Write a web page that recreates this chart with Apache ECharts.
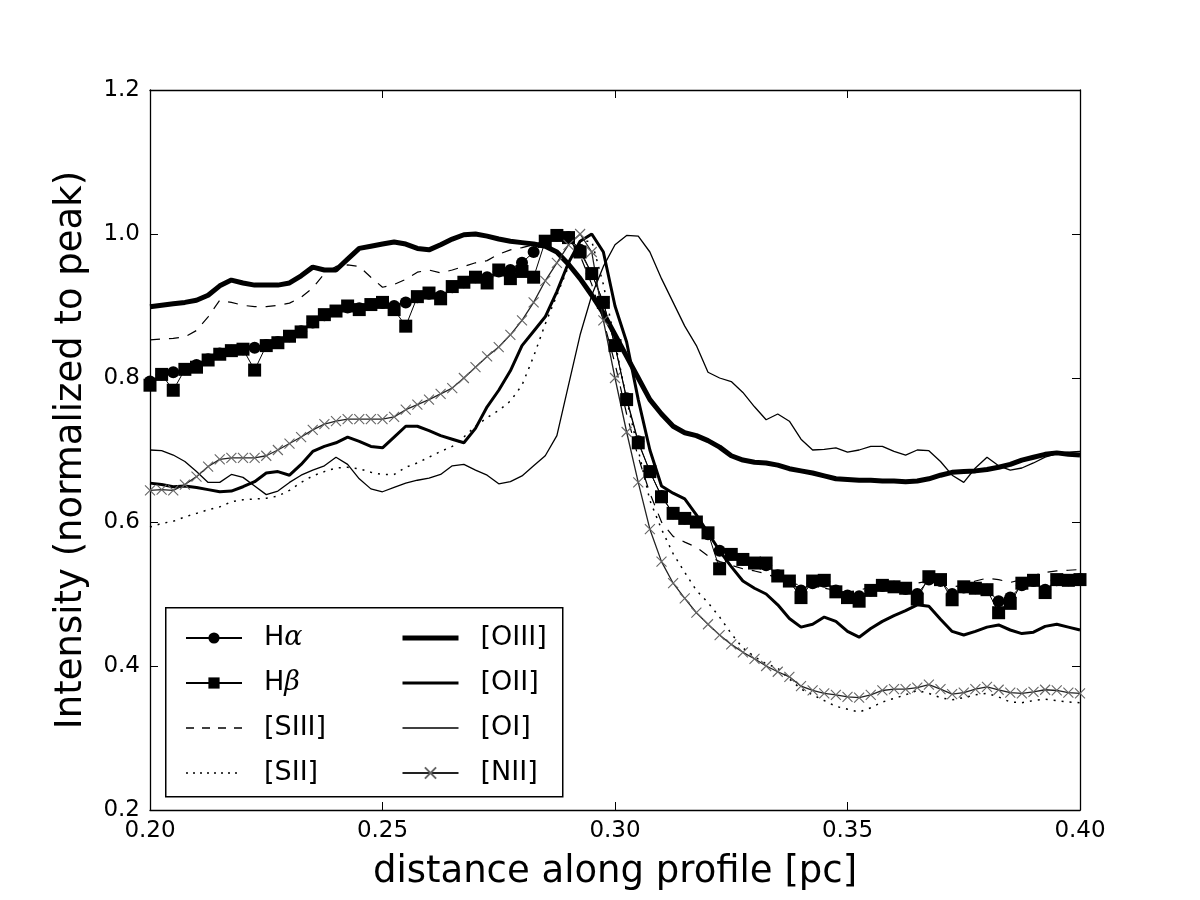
<!DOCTYPE html>
<html>
<head>
<meta charset="utf-8">
<script src="https://cdn.jsdelivr.net/npm/echarts@6/dist/echarts.min.js"></script>
<style>
  html, body { margin: 0; padding: 0; background: #fff; }
  #chart { width: 1200px; height: 900px; }
</style>
</head>
<body>
<div id="chart"></div>
<script>
// distance along profile [pc]
const distance = [
  0.2000, 0.2025, 0.2050, 0.2075, 0.2100, 0.2125, 0.2150, 0.2175, 0.2200, 0.2225,
  0.2250, 0.2275, 0.2300, 0.2325, 0.2350, 0.2375, 0.2400, 0.2425, 0.2450, 0.2475,
  0.2500, 0.2525, 0.2550, 0.2575, 0.2600, 0.2625, 0.2650, 0.2675, 0.2700, 0.2725,
  0.2750, 0.2775, 0.2800, 0.2825, 0.2850, 0.2875, 0.2900, 0.2925, 0.2950, 0.2975,
  0.3000, 0.3025, 0.3050, 0.3075, 0.3100, 0.3125, 0.3150, 0.3175, 0.3200, 0.3225,
  0.3250, 0.3275, 0.3300, 0.3325, 0.3350, 0.3375, 0.3400, 0.3425, 0.3450, 0.3475,
  0.3500, 0.3525, 0.3550, 0.3575, 0.3600, 0.3625, 0.3650, 0.3675, 0.3700, 0.3725,
  0.3750, 0.3775, 0.3800, 0.3825, 0.3850, 0.3875, 0.3900, 0.3925, 0.3950, 0.3975,
  0.4000
]

const hAlpha = [
  0.795, 0.805, 0.808, 0.812, 0.818, 0.826, 0.834, 0.838, 0.840, 0.842,
  0.846, 0.850, 0.858, 0.865, 0.877, 0.887, 0.893, 0.898, 0.897, 0.902,
  0.904, 0.900, 0.905, 0.912, 0.917, 0.914, 0.926, 0.933, 0.940, 0.940,
  0.948, 0.950, 0.960, 0.975, 0.990, 0.998, 0.996, 0.978, 0.945, 0.905,
  0.845, 0.772, 0.712, 0.670, 0.636, 0.612, 0.605, 0.600, 0.583, 0.560,
  0.555, 0.548, 0.543, 0.540, 0.526, 0.518, 0.505, 0.515, 0.517, 0.505,
  0.498, 0.497, 0.505, 0.511, 0.510, 0.507, 0.500, 0.520, 0.518, 0.500,
  0.509, 0.508, 0.506, 0.490, 0.495, 0.512, 0.518, 0.506, 0.519, 0.519,
  0.521
]

const hBeta = [
  0.790, 0.805, 0.783, 0.812, 0.815, 0.825, 0.833, 0.838, 0.840, 0.811,
  0.845, 0.849, 0.858, 0.864, 0.878, 0.888, 0.893, 0.900, 0.895, 0.902,
  0.905, 0.895, 0.872, 0.913, 0.918, 0.910, 0.927, 0.933, 0.940, 0.932,
  0.950, 0.938, 0.948, 0.940, 0.990, 0.998, 0.995, 0.975, 0.945, 0.905,
  0.845, 0.770, 0.710, 0.670, 0.635, 0.612, 0.605, 0.600, 0.585, 0.535,
  0.555, 0.548, 0.543, 0.543, 0.525, 0.518, 0.495, 0.518, 0.519, 0.503,
  0.495, 0.490, 0.505, 0.512, 0.510, 0.508, 0.493, 0.524, 0.520, 0.492,
  0.510, 0.508, 0.506, 0.474, 0.487, 0.515, 0.519, 0.502, 0.520, 0.519,
  0.520
]

const sIII = [
  0.853, 0.854, 0.855, 0.857, 0.866, 0.885, 0.908, 0.905, 0.901, 0.899,
  0.899, 0.901, 0.904, 0.912, 0.925, 0.945, 0.955, 0.957, 0.955, 0.940,
  0.926, 0.930, 0.937, 0.947, 0.950, 0.946, 0.950, 0.955, 0.960, 0.963,
  0.972, 0.978, 0.981, 0.985, 0.992, 0.998, 0.995, 0.970, 0.930, 0.880,
  0.820, 0.750, 0.690, 0.640, 0.600, 0.580, 0.572, 0.565, 0.553, 0.545,
  0.540, 0.535, 0.532, 0.528, 0.522, 0.516, 0.512, 0.510, 0.508, 0.505,
  0.503, 0.505, 0.510, 0.514, 0.515, 0.512, 0.515, 0.518, 0.514, 0.510,
  0.512, 0.518, 0.522, 0.520, 0.516, 0.520, 0.526, 0.530, 0.532, 0.533,
  0.534
]

const sII = [
  0.593, 0.598, 0.601, 0.607, 0.612, 0.617, 0.621, 0.628, 0.631, 0.632,
  0.633, 0.636, 0.644, 0.655, 0.664, 0.670, 0.675, 0.676, 0.674, 0.669,
  0.666, 0.666, 0.676, 0.682, 0.690, 0.698, 0.705, 0.718, 0.733, 0.745,
  0.755, 0.768, 0.790, 0.830, 0.875, 0.915, 0.955, 0.990, 0.990, 0.930,
  0.850, 0.770, 0.700, 0.630, 0.590, 0.556, 0.530, 0.505, 0.488, 0.468,
  0.445, 0.425, 0.413, 0.403, 0.397, 0.382, 0.368, 0.360, 0.352, 0.344,
  0.340, 0.336, 0.342, 0.350, 0.355, 0.360, 0.366, 0.362, 0.356, 0.353,
  0.356, 0.360, 0.362, 0.357, 0.350, 0.349, 0.352, 0.354, 0.352, 0.350,
  0.349
]

const oIII = [
  0.899, 0.901, 0.903, 0.905, 0.908, 0.915, 0.928, 0.936, 0.932, 0.929,
  0.929, 0.929, 0.932, 0.942, 0.954, 0.950, 0.950, 0.965, 0.980, 0.983,
  0.986, 0.989, 0.986, 0.980, 0.978, 0.985, 0.993, 0.999, 1.000, 0.997,
  0.993, 0.990, 0.988, 0.986, 0.983, 0.975, 0.958, 0.938, 0.915, 0.890,
  0.860, 0.830, 0.800, 0.770, 0.750, 0.733, 0.724, 0.720, 0.713, 0.704,
  0.692, 0.686, 0.683, 0.682, 0.679, 0.674, 0.671, 0.668, 0.664, 0.660,
  0.659, 0.658, 0.658, 0.657, 0.657, 0.656, 0.657, 0.660, 0.665, 0.669,
  0.670, 0.671, 0.673, 0.676, 0.680, 0.686, 0.690, 0.694, 0.696, 0.694,
  0.693
]

const oII = [
  0.654, 0.652, 0.649, 0.650, 0.648, 0.645, 0.642, 0.643, 0.649, 0.656,
  0.668, 0.670, 0.665, 0.680, 0.698, 0.705, 0.710, 0.718, 0.712, 0.705,
  0.703, 0.718, 0.733, 0.733, 0.727, 0.720, 0.715, 0.710, 0.730, 0.760,
  0.783, 0.810, 0.845, 0.865, 0.885, 0.920, 0.960, 0.990, 1.000, 0.975,
  0.900, 0.850, 0.770, 0.700, 0.650, 0.640, 0.632, 0.610, 0.585, 0.560,
  0.538, 0.518, 0.508, 0.500, 0.485, 0.466, 0.454, 0.458, 0.468, 0.462,
  0.448, 0.440, 0.452, 0.462, 0.470, 0.477, 0.485, 0.483, 0.465, 0.448,
  0.443, 0.448, 0.454, 0.457, 0.450, 0.445, 0.447, 0.455, 0.458, 0.454,
  0.450
]

const oI = [
  0.700, 0.699, 0.693, 0.684, 0.670, 0.655, 0.655, 0.666, 0.662, 0.650,
  0.638, 0.643, 0.655, 0.665, 0.672, 0.678, 0.690, 0.680, 0.660, 0.646,
  0.642, 0.648, 0.654, 0.658, 0.661, 0.666, 0.678, 0.680, 0.672, 0.665,
  0.653, 0.656, 0.664, 0.678, 0.692, 0.720, 0.790, 0.860, 0.915, 0.955,
  0.985, 0.998, 0.997, 0.975, 0.938, 0.905, 0.872, 0.845, 0.808, 0.800,
  0.795, 0.780, 0.760, 0.742, 0.750, 0.740, 0.715, 0.700, 0.701, 0.703,
  0.697, 0.700, 0.705, 0.705, 0.698, 0.693, 0.700, 0.699, 0.684, 0.665,
  0.655, 0.675, 0.690, 0.678, 0.672, 0.675, 0.682, 0.690, 0.695, 0.697,
  0.698
]

const nII = [
  0.644, 0.645, 0.644, 0.652, 0.663, 0.677, 0.687, 0.689, 0.689, 0.689,
  0.692, 0.700, 0.709, 0.718, 0.728, 0.736, 0.740, 0.743, 0.743, 0.743,
  0.743, 0.746, 0.756, 0.763, 0.770, 0.778, 0.786, 0.800, 0.815, 0.830,
  0.843, 0.860, 0.880, 0.905, 0.935, 0.960, 0.985, 1.000, 0.975, 0.880,
  0.800, 0.725, 0.655, 0.590, 0.545, 0.515, 0.494, 0.474, 0.458, 0.443,
  0.430, 0.419, 0.410, 0.400, 0.392, 0.385, 0.372, 0.366, 0.362, 0.360,
  0.357, 0.356, 0.360, 0.366, 0.368, 0.368, 0.370, 0.374, 0.368, 0.361,
  0.363, 0.368, 0.371, 0.367, 0.363, 0.362, 0.364, 0.367, 0.366, 0.363,
  0.362
]

const xTicks = { min: 0.2, max: 0.4, interval: 0.05 }
const yTicks = { min: 0.2, max: 1.2, interval: 0.2 }

const pairs = ys => distance.map((x, i) => [x, ys[i]])

const chart = echarts.init(document.getElementById('chart'))

const font = 'DejaVu Sans'

const plain = (name, ys, lineStyle) => ({
  name, type: 'line', data: pairs(ys), symbol: 'none', showSymbol: false,
  lineStyle: Object.assign({ color: '#000' }, lineStyle),
  itemStyle: { color: '#000' }
})

const series = [
  {
    name: 'Hα', type: 'line', data: pairs(hAlpha),
    symbol: 'circle', symbolSize: 12,
    lineStyle: { color: '#000', width: 1 },
    itemStyle: { color: '#000' }
  },
  {
    name: 'Hβ', type: 'line', data: pairs(hBeta),
    symbol: 'rect', symbolSize: 13,
    lineStyle: { color: '#000', width: 1 },
    itemStyle: { color: '#000' }
  },
  plain('[SIII]', sIII, { width: 1.2, type: [10, 9] }),
  plain('[SII]', sII, { width: 1.5, type: [2, 6] }),
  plain('[OIII]', oIII, { width: 5 }),
  plain('[OII]', oII, { width: 3 }),
  plain('[OI]', oI, { width: 1.3 }),
  {
    name: '[NII]', type: 'line', data: pairs(nII),
    symbol: 'path://M0,0L10,10M0,10L10,0', symbolSize: 10,
    lineStyle: { color: '#222', width: 1.3 },
    itemStyle: { color: 'none', borderColor: '#666', borderWidth: 1.1 }
  }
]

const axisBase = {
  type: 'value',
  axisLine: { show: true, onZero: false, lineStyle: { color: '#000', width: 1.3 } },
  axisTick: { show: true, inside: true, length: 8, lineStyle: { color: '#000', width: 1 } },
  splitLine: { show: false }
}

const legendBase = {
  orient: 'vertical',
  top: 619,
  itemWidth: 56,
  itemHeight: 14,
  itemGap: 17,
  textStyle: {
    fontFamily: font, fontSize: 27, color: '#000', lineHeight: 28,
    padding: [0, 0, 0, 17],
    rich: {
      r: { fontFamily: font, fontSize: 27, color: '#000' },
      g: { fontFamily: 'DejaVu Serif', fontStyle: 'italic', fontSize: 27, color: '#000' }
    }
  },
  formatter: name => {
    if (name === 'Hα') return '{r|H}{g|α}'
    if (name === 'Hβ') return '{r|H}{g|β}'
    return name
  },
  z: 6
}

// legend rows without a marker: hide the centre symbol, keep the stroke width
const noMark = (name, width, type) => ({
  name,
  itemStyle: { opacity: 0 },
  lineStyle: Object.assign({ width }, type ? { type } : {})
})

chart.setOption({
  animation: false,
  backgroundColor: '#fff',
  grid: { left: 150, top: 90, right: 120, bottom: 90 },
  xAxis: [
    Object.assign({}, axisBase, xTicks, {
      position: 'bottom',
      name: 'distance along profile [pc]',
      nameLocation: 'middle',
      nameGap: 44,
      nameTextStyle: { fontFamily: font, fontSize: 37, color: '#000' },
      axisLabel: { fontFamily: font, fontSize: 23, color: '#000', margin: 10, formatter: v => v.toFixed(2) }
    }),
    Object.assign({}, axisBase, xTicks, { position: 'top', axisLabel: { show: false } })
  ],
  yAxis: [
    Object.assign({}, axisBase, yTicks, {
      position: 'left',
      name: 'Intensity (normalized to peak)',
      nameLocation: 'middle',
      nameGap: 60,
      nameTextStyle: { fontFamily: font, fontSize: 37, color: '#000' },
      axisLabel: { fontFamily: font, fontSize: 23, color: '#000', margin: 10, formatter: v => v.toFixed(1) }
    }),
    Object.assign({}, axisBase, yTicks, { position: 'right', axisLabel: { show: false } })
  ],
  legend: [
    Object.assign({}, legendBase, {
      left: 180,
      data: ['Hα', 'Hβ', noMark('[SIII]', 1.3, [8, 8]), noMark('[SII]', 1.5, [2, 5])]
    }),
    Object.assign({}, legendBase, {
      left: 395,
      data: [noMark('[OIII]', 5), noMark('[OII]', 3), noMark('[OI]', 1.3), '[NII]']
    })
  ],
  graphic: [{
    type: 'rect', left: 165, top: 607, z: 5,
    shape: { width: 397, height: 189 },
    style: { fill: '#fff', stroke: '#000', lineWidth: 1.5 }
  }],
  series
})
</script>
</body>
</html>
